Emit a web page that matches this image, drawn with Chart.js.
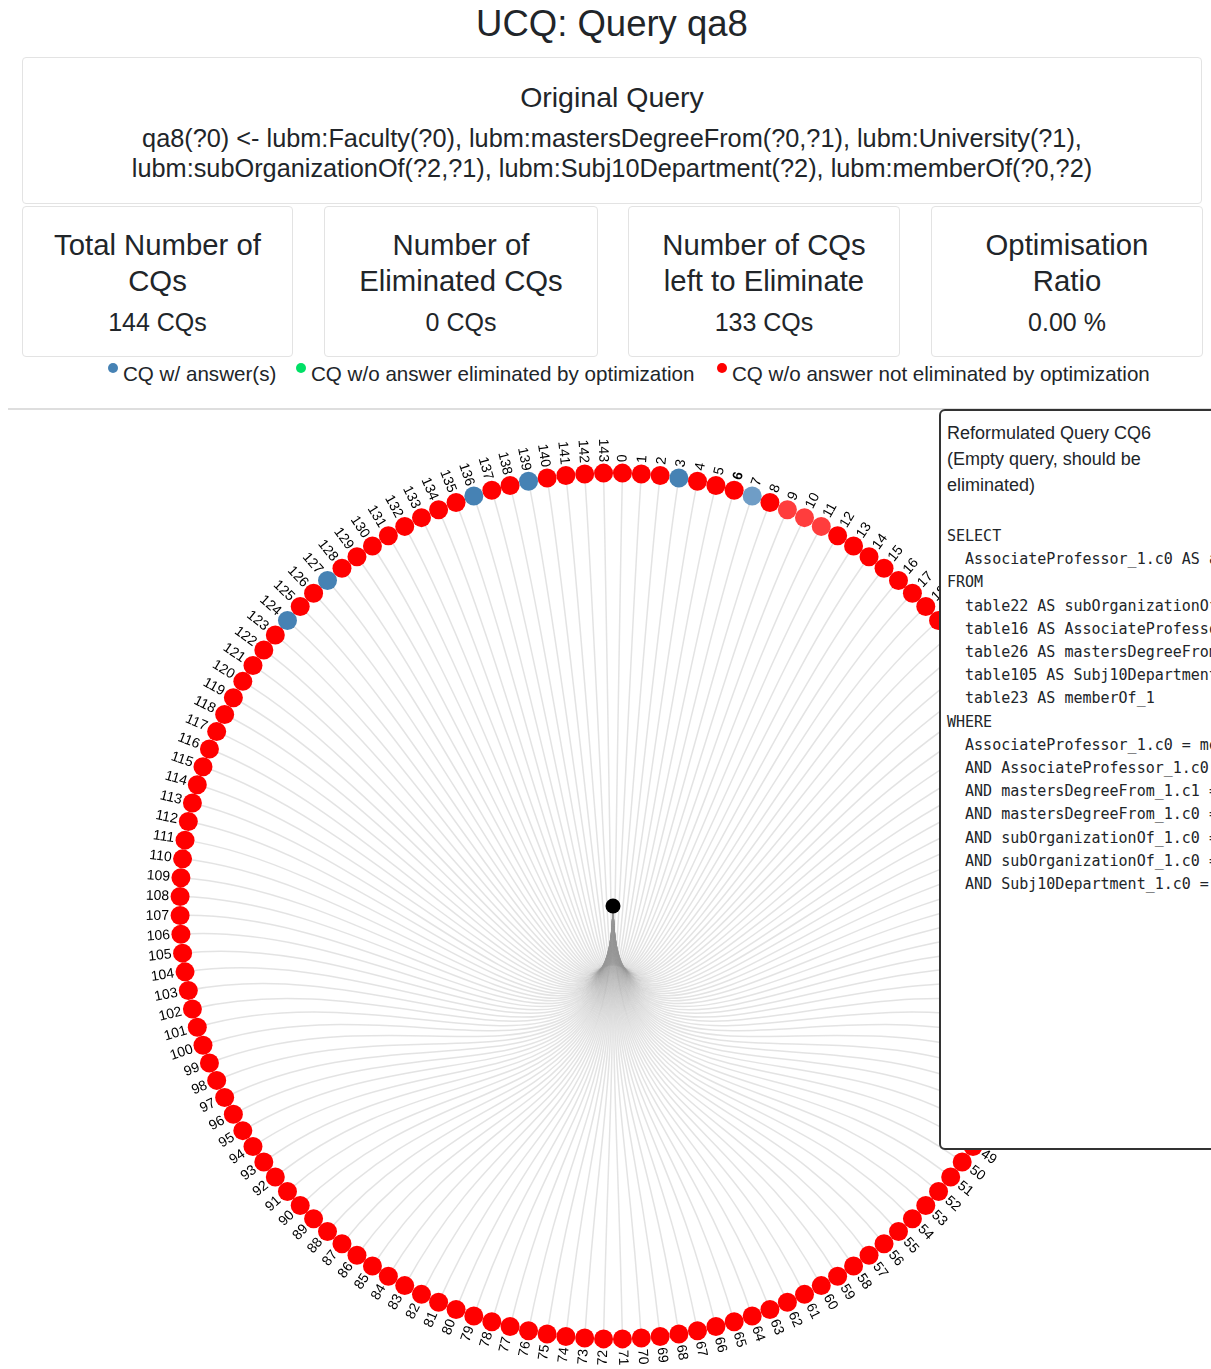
<!DOCTYPE html>
<html><head><meta charset="utf-8">
<script src="https://cdn.jsdelivr.net/npm/chart.js@4.4.0/dist/chart.umd.min.js"></script>
<style>
html,body{margin:0;padding:0;width:1211px;height:1369px;overflow:hidden;background:#fff;font-family:"Liberation Sans",Arial,Helvetica,sans-serif;color:#212529}
.abs{position:absolute}
#title{left:0;top:0;width:1224px;text-align:center;font-size:36.5px;line-height:48px}
#orig{left:22px;top:57px;width:1178px;height:145px;border:1px solid #e3e3e3;border-radius:4px}
#orig .h{position:absolute;left:0;right:0;top:22px;text-align:center;font-size:28.5px;line-height:34px}
#orig .q{position:absolute;left:0;right:0;top:65px;text-align:center;font-size:25.3px;line-height:30px}
.card{top:206px;height:149px;border:1px solid #e3e3e3;border-radius:4px;text-align:center}
.card .t{position:absolute;left:0;right:0;top:20px;font-size:29.3px;line-height:36px}
.card .v{position:absolute;left:0;right:0;top:99px;font-size:25px;line-height:32px}
.leg{top:362px;font-size:20.6px;line-height:24px;white-space:nowrap}
.dot{position:absolute;width:10px;height:10px;border-radius:50%}
#sep{left:8px;top:408px;width:1210px;height:0;border-top:2px solid #dedede}
#cv{left:0;top:411px}
#tip{left:939px;top:409px;width:600px;height:737px;border:2px solid #333;border-radius:6px;background:#fff}
#tip .hd{position:absolute;left:6px;top:9px;font-size:18px;line-height:26px;white-space:nowrap}
#tip pre{position:absolute;left:6px;top:114px;margin:0;font-family:"DejaVu Sans Mono",monospace;font-size:15px;line-height:23.2px;color:#212529}
</style>
</head><body>
<div id="title" class="abs">UCQ: Query qa8</div>
<div id="orig" class="abs">
  <div class="h">Original Query</div>
  <div class="q">qa8(?0) &lt;- lubm:Faculty(?0), lubm:mastersDegreeFrom(?0,?1), lubm:University(?1),<br>lubm:subOrganizationOf(?2,?1), lubm:Subj10Department(?2), lubm:memberOf(?0,?2)</div>
</div>
<div class="abs card" style="left:22px;width:269px"><div class="t">Total Number of<br>CQs</div><div class="v">144 CQs</div></div>
<div class="abs card" style="left:324px;width:272px"><div class="t">Number of<br>Eliminated CQs</div><div class="v">0 CQs</div></div>
<div class="abs card" style="left:628px;width:270px"><div class="t">Number of CQs<br>left to Eliminate</div><div class="v">133 CQs</div></div>
<div class="abs card" style="left:931px;width:270px"><div class="t">Optimisation<br>Ratio</div><div class="v">0.00 %</div></div>

<div class="abs dot" style="left:108px;top:363px;background:#4682b4"></div>
<div class="abs leg" style="left:123px">CQ w/ answer(s)</div>
<div class="abs dot" style="left:296px;top:363px;background:#00e066"></div>
<div class="abs leg" style="left:311px">CQ w/o answer eliminated by optimization</div>
<div class="abs dot" style="left:717px;top:363px;background:#ff0000"></div>
<div class="abs leg" style="left:732px">CQ w/o answer not eliminated by optimization</div>

<div id="sep" class="abs"></div>
<canvas id="cv" class="abs" width="1211" height="958"></canvas>

<div id="tip" class="abs">
  <div class="hd">Reformulated Query CQ6<br>(Empty query, should be<br>eliminated)</div>
<pre>SELECT
  AssociateProfessor_1.c0 AS att0
FROM
  table22 AS subOrganizationOf_1,
  table16 AS AssociateProfessor_1,
  table26 AS mastersDegreeFrom_1,
  table105 AS Subj10Department_1,
  table23 AS memberOf_1
WHERE
  AssociateProfessor_1.c0 = memberOf_1.c0
  AND AssociateProfessor_1.c0 = mastersDegreeFrom_1.c0
  AND mastersDegreeFrom_1.c1 = subOrganizationOf_1.c1
  AND mastersDegreeFrom_1.c0 = memberOf_1.c0
  AND subOrganizationOf_1.c0 = Subj10Department_1.c0
  AND subOrganizationOf_1.c0 = memberOf_1.c1
  AND Subj10Department_1.c0 = memberOf_1.c1</pre>
</div>

<script>
// Leaf CQ identifiers (0..143) as shown around the circle
const cqLabels = [
  "0","1","2","3","4","5","6","7","8","9","10","11",
  "12","13","14","15","16","17","18","19","20","21","22","23",
  "24","25","26","27","28","29","30","31","32","33","34","35",
  "36","37","38","39","40","41","42","43","44","45","46","47",
  "48","49","50","51","52","53","54","55","56","57","58","59",
  "60","61","62","63","64","65","66","67","68","69","70","71",
  "72","73","74","75","76","77","78","79","80","81","82","83",
  "84","85","86","87","88","89","90","91","92","93","94","95",
  "96","97","98","99","100","101","102","103","104","105","106","107",
  "108","109","110","111","112","113","114","115","116","117","118","119",
  "120","121","122","123","124","125","126","127","128","129","130","131",
  "132","133","134","135","136","137","138","139","140","141","142","143"
];
// A = CQ with answer(s), E = without answer eliminated, N = without answer not eliminated
const cqStatus = [
  "N","N","N","A","N","N","N","A","N","N","N","N",
  "N","N","N","N","N","N","N","N","N","N","N","N",
  "N","N","N","N","N","N","N","N","N","N","N","N",
  "N","N","N","N","N","N","N","N","N","N","N","N",
  "N","N","N","N","N","N","N","N","N","N","N","N",
  "N","N","N","N","N","N","N","N","N","N","N","N",
  "N","N","N","N","N","N","N","N","N","N","N","N",
  "N","N","N","N","N","N","N","N","N","N","N","N",
  "N","N","N","N","N","N","N","N","N","N","N","N",
  "N","N","N","N","N","N","N","N","N","N","N","N",
  "N","N","N","N","A","N","N","A","N","N","N","N",
  "N","N","N","N","A","N","N","A","N","N","N","N"
];
const hoveredCQ = "6";
const fadedCQs = ["7","9","10","11"];

const statusColor = {A:"#4682b4", E:"#00e066", N:"#ff0000"};
const fadedColor = {A:"#6f9dc6", E:"#40e88a", N:"#ff3d3d"};

const RADIUS = 433;
const n = cqLabels.length;
const angleOf = i => (i + 0.5) / n * 2 * Math.PI;
const polar = (a, r) => ({x: r * Math.sin(a), y: r * Math.cos(a)});

const leafPoints = cqLabels.map((l, i) => polar(angleOf(i), RADIUS));
const leafColors = cqLabels.map((l, i) => fadedCQs.includes(l) ? fadedColor[cqStatus[i]] : statusColor[cqStatus[i]]);

const linkPlugin = {
  id: 'links',
  beforeDatasetsDraw(chart) {
    const {ctx, scales:{x, y}} = chart;
    const px = p => [x.getPixelForValue(p.x), y.getPixelForValue(p.y)];
    ctx.save();
    ctx.strokeStyle = 'rgba(150,150,150,0.27)';
    ctx.lineWidth = 1.5;
    const s = px({x:0, y:0});
    const c1 = px(polar(Math.PI, RADIUS / 2));
    cqLabels.forEach((l, i) => {
      const a = angleOf(i);
      const c2 = px(polar(a, RADIUS / 2));
      const t = px(polar(a, RADIUS));
      ctx.beginPath();
      ctx.moveTo(s[0], s[1]);
      ctx.bezierCurveTo(c1[0], c1[1], c2[0], c2[1], t[0], t[1]);
      ctx.stroke();
    });
    ctx.restore();
  }
};

const labelPlugin = {
  id: 'radialLabels',
  afterDatasetsDraw(chart) {
    const {ctx, scales:{x, y}} = chart;
    ctx.save();
    ctx.fillStyle = '#000';
    ctx.textBaseline = 'middle';
    cqLabels.forEach((l, i) => {
      const a = angleOf(i);
      const p = polar(a, RADIUS + 11);
      ctx.save();
      ctx.translate(x.getPixelForValue(p.x), y.getPixelForValue(p.y));
      ctx.font = (l === hoveredCQ ? 'bold ' : '') + '14px "Liberation Sans", Arial, sans-serif';
      if (a < Math.PI) {
        ctx.rotate(a - Math.PI / 2);
        ctx.textAlign = 'left';
      } else {
        ctx.rotate(a + Math.PI / 2);
        ctx.textAlign = 'right';
      }
      ctx.fillText(l, 0, 0);
      ctx.restore();
    });
    ctx.restore();
  }
};

new Chart(document.getElementById('cv'), {
  type: 'scatter',
  data: {
    datasets: [
      {data: leafPoints, pointRadius: 9.5, pointBackgroundColor: leafColors, pointBorderWidth: 0, pointHoverRadius: 9.5},
      {data: [{x:0, y:0}], pointRadius: 7.5, pointBackgroundColor: '#000', pointBorderWidth: 0}
    ]
  },
  options: {
    responsive: false,
    animation: false,
    events: [],
    layout: {padding: 0, autoPadding: false},
    plugins: {legend: {display: false}, tooltip: {enabled: false}},
    scales: {
      x: {type: 'linear', min: -613, max: 598, display: false},
      y: {type: 'linear', min: -463, max: 495, display: false}
    }
  },
  plugins: [linkPlugin, labelPlugin]
});
</script>
</body></html>
